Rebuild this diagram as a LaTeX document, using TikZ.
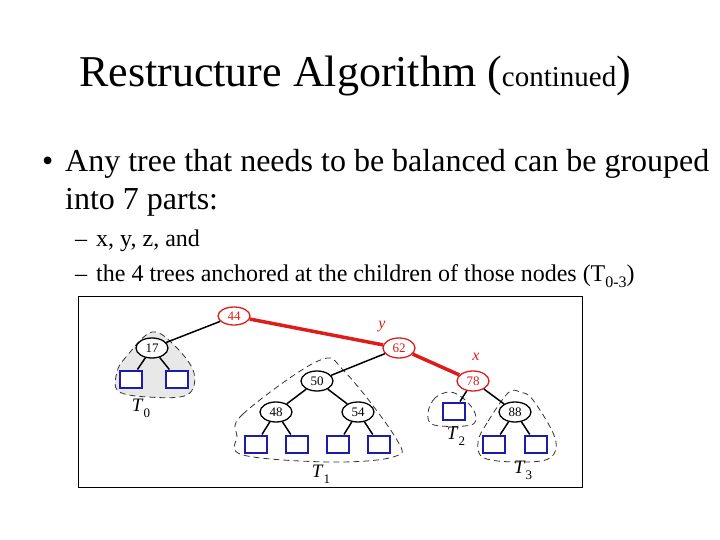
\documentclass[tikz,border=0pt]{standalone}
\usepackage{fontspec}
\setmainfont{Liberation Serif}
\usetikzlibrary{shapes.geometric}

\definecolor{pathred}{RGB}{222,28,28}
\definecolor{leafblue}{RGB}{28,28,168}
\newcommand{\treelabel}[1]{\textit{T}\raisebox{-0.3em}{\fontsize{13}{13}\selectfont #1}}

\begin{document}
\begin{tikzpicture}[
    x=1pt, y=-1pt,
    key/.style={ellipse, draw, line width=1.3pt, fill=white, minimum width=32pt, minimum height=20pt, inner sep=0pt, font=\fontsize{13}{13}\selectfont},
    hot/.style={key, draw=pathred, text=pathred},
    leaf/.style={rectangle, draw=leafblue, line width=2pt, fill=white, minimum width=22pt, minimum height=17pt, inner sep=0pt},
    link/.style={-, line width=1.5pt},
    hotlink/.style={-, line width=3.5pt, pathred},
    subtree/.style={line width=0.8pt, dash pattern=on 6pt off 4pt, black!80},
    tlabel/.style={font=\fontsize{19}{19}\selectfont},
    lbl/.style={font=\fontsize{16}{16}\selectfont\itshape, text=pathred},
    slide/.style={anchor=base west, inner sep=0pt}
]
\useasboundingbox (0,0) rectangle (720,540);

% --- Slide text ---
\node[slide, font=\fontsize{44}{44}\selectfont] (title) at (79,87)
    {Restructure Algorithm ({\fontsize{29}{29}\selectfont continued})};
\node[slide, font=\fontsize{32}{32}\selectfont] (dot) at (42,172) {\textbullet};
\node[slide, font=\fontsize{32}{32}\selectfont] (line1) at (65,172)
    {Any tree that needs to be balanced can be grouped};
\node[slide, font=\fontsize{32}{32}\selectfont] (line2) at (65,210) {into 7 parts:};
\node[slide, font=\fontsize{24}{24}\selectfont] (dash1) at (75,246) {--};
\node[slide, font=\fontsize{24}{24}\selectfont] (sub1) at (96,246) {x, y, z, and};
\node[slide, font=\fontsize{24}{24}\selectfont] (dash2) at (75,281) {--};
\node[slide, font=\fontsize{24}{24}\selectfont] (sub2) at (96,281)
    {the 4 trees anchored at the children of those nodes (T\raisebox{-0.25em}{\fontsize{16}{16}\selectfont 0-3})};

% --- Frame ---
\node[draw, thin, minimum width=504pt, minimum height=191pt, inner sep=0pt, anchor=north west] (frame) at (78,296) {};

% --- Subtree outlines ---
\draw[subtree, fill=gray!18] plot[smooth cycle, tension=0.6] coordinates
    {(152,332) (126,357) (117,372) (118,391) (148,397) (187,395) (194,373) (176,347)};
\draw[subtree] plot[smooth cycle, tension=0.6] coordinates
    {(318,361) (243,414) (237,436) (243,455) (330,462) (393,457) (397,440) (345,372)};
\draw[subtree] plot[smooth cycle, tension=0.6] coordinates
    {(450,392) (435,398) (428,413) (434,425) (471,425) (475,413) (464,399)};
\draw[subtree] plot[smooth cycle, tension=0.6] coordinates
    {(508,393) (487,423) (478,442) (484,458) (520,462) (550,458) (555,438) (533,400) (520,392)};

% --- Nodes ---
\node[hot, minimum height=18pt] (n44) at (234,316) {44};
\node[key] (n17) at (152,348) {17};
\node[hot] (n62) at (399,348) {62};
\node[key] (n50) at (317,381) {50};
\node[hot] (n78) at (473,381) {78};
\node[key] (n48) at (276,412) {48};
\node[key] (n54) at (358,412) {54};
\node[key] (n88) at (515,412) {88};

\node[leaf] (a1) at (131,379) {};
\node[leaf] (a2) at (177,379) {};
\node[leaf] (b1) at (256,444) {};
\node[leaf] (b2) at (297,444) {};
\node[leaf] (b3) at (338,444) {};
\node[leaf] (b4) at (379,444) {};
\node[leaf] (c1) at (454,411) {};
\node[leaf] (d1) at (494,444) {};
\node[leaf] (d2) at (536,444) {};

% --- Edges ---
\draw[hotlink] (n44) -- (n62);
\draw[hotlink] (n62) -- (n78);
\draw[link] (n44) -- (n17);
\draw[link] (n62) -- (n50);
\draw[link] (n50) -- (n48);
\draw[link] (n50) -- (n54);
\draw[link] (n78) -- (c1);
\draw[link] (n78) -- (n88);
\foreach \p/\c in {n17/a1, n17/a2, n48/b1, n48/b2, n54/b3, n54/b4, n88/d1, n88/d2}
    \draw[link] (\p) -- (\c);

% --- Labels ---
\node[lbl] (ly) at (382,327) {y};
\node[lbl] (lx) at (476,357) {x};
\node[tlabel] (t0) at (141,408) {\treelabel{0}};
\node[tlabel] (t1) at (321,474) {\treelabel{1}};
\node[tlabel] (t2) at (456,436) {\treelabel{2}};
\node[tlabel] (t3) at (523,470) {\treelabel{3}};

\end{tikzpicture}
\end{document}
